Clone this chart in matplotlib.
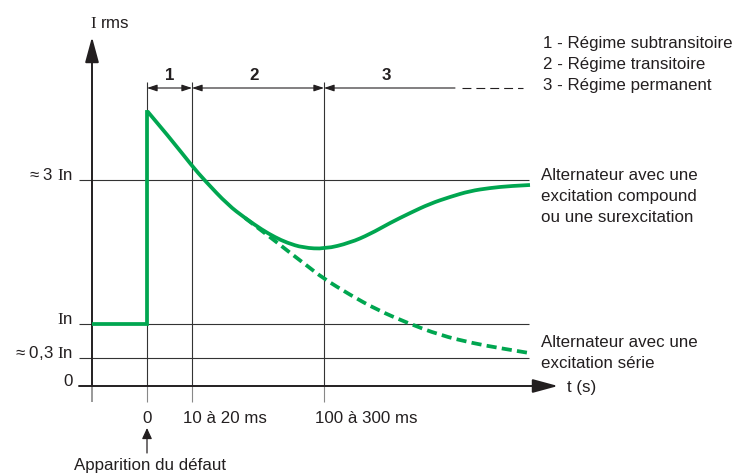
import matplotlib
matplotlib.use('Agg')
import matplotlib.pyplot as plt
from matplotlib.path import Path
from matplotlib.patches import PathPatch

plt.rcParams['font.family'] = ['Liberation Sans', 'DejaVu Sans']
plt.rcParams['mathtext.fontset'] = 'custom'
plt.rcParams['mathtext.rm'] = 'Liberation Serif'

# ---------------- data (schematic units: x ~ time, y ~ current in "In" units) -------------
t_marks = [0, 45, 177]                       # fault, end subtransient, end transient
t_labels = ['0', '10 à 20 ms', '100 à 300 ms']
t_start, t_end, t_arrow = -55, 382, 411
y_levels = [0, 0.45, 1, 3.32]
y_labels = ['0', r'≈ 0,3 $\mathrm{I}$n', r'$\mathrm{I}$n', r'≈ 3 $\mathrm{I}$n']
pre_fault_level = 1.0
peak_level = 4.42

compound_t = [1, 23, 45, 58, 81, 98, 115, 128, 140, 156, 178, 203, 223, 243, 263, 283, 303,
              323, 343, 363, 383]
compound_i = [4.42, 4.00, 3.55, 3.31, 2.92, 2.71, 2.52, 2.40, 2.31, 2.23, 2.21, 2.31, 2.45,
              2.63, 2.79, 2.94, 3.05, 3.145, 3.194, 3.226, 3.242]

serie_t = [98, 115, 128, 143, 160, 176, 203, 230, 260, 293, 326, 353, 383]
serie_i = [2.71, 2.50, 2.34, 2.15, 1.94, 1.74, 1.47, 1.23, 1.02, 0.82, 0.69, 0.61, 0.53]

phase_labels = ['1', '2', '3']
legend_lines = ['1 - Régime subtransitoire', '2 - Régime transitoire', '3 - Régime permanent']
compound_label = ['Alternateur avec une', 'excitation compound', 'ou une surexcitation']
serie_label = ['Alternateur avec une', 'excitation série']
y_title = r'$\mathrm{I}$ rms'
x_title = 't (s)'
fault_label = 'Apparition du défaut'

# ---------------- layout helpers (pixel -> data) ----------------
W, H = 739, 474
X0, Y0, YS = 147, 386, 62.0
def X(px):
    return px - X0
def Y(py):
    return (Y0 - py) / YS

GREEN = '#00a650'
INK = '#231f20'
GRID = '#333333'
FS = 12.2


def smooth_path(xs, ys, lead=None):
    """Quadratic-Bezier path using the read points as control points."""
    pts = list(zip(xs, ys))
    verts, codes = [], []
    if lead:
        verts.append(lead[0]); codes.append(Path.MOVETO)
        for p in lead[1:]:
            verts.append(p); codes.append(Path.LINETO)
        verts.append(pts[0]); codes.append(Path.LINETO)
    else:
        verts.append(pts[0]); codes.append(Path.MOVETO)
    for i in range(1, len(pts) - 1):
        mid = ((pts[i][0] + pts[i + 1][0]) / 2, (pts[i][1] + pts[i + 1][1]) / 2)
        if i == len(pts) - 2:
            mid = pts[-1]
        verts += [pts[i], mid]
        codes += [Path.CURVE3, Path.CURVE3]
    return Path(verts, codes)


fig = plt.figure(figsize=(W / 100, H / 100), dpi=100)
ax = fig.add_axes([0, 0, 1, 1])
ax.set_xlim(X(0), X(W))
ax.set_ylim(Y(H), Y(0))
ax.axis('off')

line_left = X(79)
vtop, vbot = Y(82), Y(402)

# horizontal reference lines
for lv in y_levels[1:]:
    ax.plot([line_left, t_end], [lv, lv], color=GRID, lw=0.8, solid_capstyle='butt')

# vertical reference lines
for tm in t_marks:
    ax.plot([tm, tm], [y_levels[0], vtop], color=GRID, lw=0.8, solid_capstyle='butt')
    ax.plot([tm, tm], [vbot, y_levels[0]], color='#888888', lw=0.8, solid_capstyle='butt')
ax.plot([t_start, t_start], [vbot, y_levels[0]], color='#888888', lw=1.2, solid_capstyle='butt')

# axes with arrows
ax.annotate('', xy=(t_arrow, 0), xytext=(line_left, 0),
            arrowprops=dict(arrowstyle='-|>,head_length=1.55,head_width=0.42', lw=1.4,
                            color=INK, shrinkA=0, shrinkB=0, mutation_scale=10))
ax.annotate('', xy=(t_start, Y(37)), xytext=(t_start, 0),
            arrowprops=dict(arrowstyle='-|>,head_length=1.55,head_width=0.42', lw=1.4,
                            color=INK, shrinkA=0, shrinkB=0, mutation_scale=10))

# dimension arrows for phases
dim_y = Y(88)
seg = [(t_marks[0], t_marks[1], '<|-|>'), (t_marks[1], t_marks[2], '<|-|>'),
       (t_marks[2], X(455), '<|-')]
for a, b, st in seg:
    ax.annotate('', xy=(b, dim_y), xytext=(a, dim_y),
                arrowprops=dict(arrowstyle=st + ',head_length=0.6,head_width=0.2', lw=0.8,
                                color=INK, shrinkA=0, shrinkB=0, mutation_scale=10))
ax.plot([X(462), X(523)], [dim_y, dim_y], color=INK, lw=0.8, linestyle=(0, (8, 4.5)))
phase_x = [(t_marks[0] + t_marks[1]) / 2, (t_marks[1] + t_marks[2]) / 2 - 4, X(386)]
for lbl, px in zip(phase_labels, phase_x):
    ax.text(px, Y(80), lbl, ha='center', va='baseline', fontsize=FS, fontweight='bold', color=INK)

# curves
p_comp = smooth_path(compound_t, compound_i,
                     lead=[(t_start, pre_fault_level), (0, pre_fault_level), (0, peak_level)])
ax.add_patch(PathPatch(p_comp, fill=False, edgecolor=GREEN, lw=2.7, joinstyle='miter',
                       capstyle='butt', zorder=5))
p_serie = smooth_path(serie_t, serie_i)
ax.add_patch(PathPatch(p_serie, fill=False, edgecolor=GREEN, lw=2.7, linestyle=(0, (2.7, 1.4)),
                       capstyle='butt', zorder=4))

# y labels
for lv, lbl in zip(y_levels, y_labels):
    ax.text(X(73), lv + 0.5 / YS, lbl, ha='right', va='baseline', fontsize=FS, color=INK)
# x labels
ax.text(t_marks[0], Y(423), t_labels[0], ha='center', va='baseline', fontsize=FS, color=INK)
for tm, lbl in zip(t_marks[1:], t_labels[1:]):
    ax.text(tm - 9, Y(423), lbl, ha='left', va='baseline', fontsize=FS, color=INK)

# titles
ax.text(X(90), Y(28), y_title, ha='left', va='baseline', fontsize=FS, color=INK)
ax.text(X(567), Y(392), x_title, ha='left', va='baseline', fontsize=FS, color=INK)

# fault annotation
ax.annotate('', xy=(0, Y(428)), xytext=(0, Y(453)),
            arrowprops=dict(arrowstyle='-|>,head_length=0.65,head_width=0.3', lw=0.9,
                            color=INK, shrinkA=0, shrinkB=0, mutation_scale=10))
ax.text(X(150), Y(470), fault_label, ha='center', va='baseline', fontsize=FS, color=INK)

# legend text
for i, s in enumerate(legend_lines):
    ax.text(X(543), Y(48 + 21 * i), s, ha='left', va='baseline', fontsize=FS, color=INK)
for i, s in enumerate(compound_label):
    ax.text(X(541), Y(180 + 21 * i), s, ha='left', va='baseline', fontsize=FS, color=INK)
for i, s in enumerate(serie_label):
    ax.text(X(541), Y(347 + 21 * i), s, ha='left', va='baseline', fontsize=FS, color=INK)

fig.savefig('out.png', dpi=100)
